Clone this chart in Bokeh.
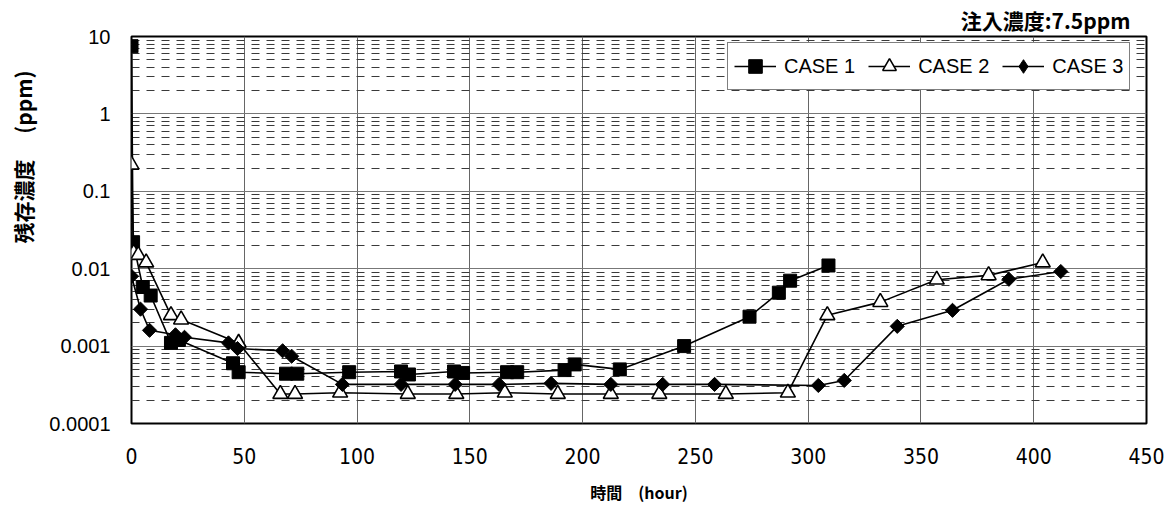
import math
from bokeh.plotting import figure
from bokeh.models import FixedTicker, Legend, LegendItem, Title
from bokeh.embed import file_html
from bokeh.resources import INLINE

# ---- data ----
case1_hours = [0, 0.7, 5, 8.5, 17.5, 21, 45, 47.5, 68.5, 73.5, 96.5, 119.5, 123,
               143, 147, 166.5, 171, 192, 196.5, 216.5, 245, 274, 287, 292, 309]
case1_ppm = [7.5, 0.022, 0.0058, 0.0045, 0.0011, 0.0012, 0.0006, 0.00046, 0.00044,
             0.00044, 0.00046, 0.00047, 0.00043, 0.00047, 0.00045, 0.00046, 0.00046,
             0.00049, 0.00058, 0.0005, 0.001, 0.0024, 0.0049, 0.007, 0.011]

case2_hours = [0, 1, 3, 6.5, 17.5, 22, 47.5, 66, 72.5, 92.5, 122.5, 144, 165.5,
               189, 212.5, 234, 263.5, 291, 308.5, 332, 357, 380, 404]
case2_ppm = [0.22, 0.016, 0.015, 0.012, 0.0025, 0.0022, 0.0011, 0.00024, 0.00024,
             0.00025, 0.00024, 0.00024, 0.00025, 0.00024, 0.00024, 0.00024, 0.00024,
             0.00025, 0.0025, 0.0037, 0.0072, 0.0082, 0.012]

case3_hours = [0, 4, 8, 19.5, 23.5, 43, 47, 67, 71, 93.5, 119.5, 143.5, 163, 186,
               212.5, 235.5, 258.5, 304.5, 316, 339.5, 364, 389, 412]
case3_ppm = [0.008, 0.003, 0.0016, 0.0014, 0.0013, 0.0011, 0.00093, 0.00087, 0.00074,
             0.00032, 0.00032, 0.00032, 0.00032, 0.00033, 0.00032, 0.00032, 0.00032,
             0.00031, 0.00036, 0.0018, 0.0029, 0.0073, 0.0092]

x_ticks = [0, 50, 100, 150, 200, 250, 300, 350, 400, 450]
y_ticks = [0.0001, 0.001, 0.01, 0.1, 1, 10]
y_tick_labels = ["0.0001", "0.001", "0.01", "0.1", "1", "10"]

series_names = ["CASE 1", "CASE 2", "CASE 3"]
title_text = "注入濃度:7.5ppm"
y_label_text = "残存濃度　 (ppm)"
x_label_text = "時間　(hour)"

CJK = "Noto Sans CJK JP"
LAT = "Liberation Sans"

p = figure(width=1164, height=507, x_range=(0, 450), y_range=(1e-4, 10),
           y_axis_type="log", output_backend="svg", toolbar_location=None,
           min_border_left=129, min_border_right=18, min_border_top=36,
           min_border_bottom=84, background_fill_color="white",
           border_fill_color="white")

p.outline_line_color = "black"
p.outline_line_width = 2

# grids
p.xgrid.ticker = FixedTicker(ticks=x_ticks)
p.xgrid.grid_line_color = "#666666"
p.xgrid.grid_line_width = 1
minor_pos = [k * 10.0 ** e for e in range(-4, 1) for k in range(2, 10)]
p.ygrid.ticker = FixedTicker(ticks=y_ticks, minor_ticks=minor_pos)
p.ygrid.grid_line_color = "#777777"
p.ygrid.grid_line_width = 1
p.ygrid.minor_grid_line_color = "#3a3a3a"
p.ygrid.minor_grid_line_dash = "8 7"
p.ygrid.minor_grid_line_width = 1

# axes
p.xaxis.ticker = FixedTicker(ticks=x_ticks)
p.yaxis.ticker = FixedTicker(ticks=y_ticks)
p.yaxis.major_label_overrides = {t: s for t, s in zip(y_ticks, y_tick_labels)}
for ax in (p.xaxis[0], p.yaxis[0]):
    ax.axis_line_color = None
    ax.major_tick_line_color = None
    ax.minor_tick_line_color = None
    ax.major_tick_out = 0
    ax.major_tick_in = 0
    ax.major_label_text_color = "black"
p.yaxis.major_label_text_font = LAT
p.yaxis.major_label_text_font_size = "20px"
p.yaxis.major_label_standoff = 21
p.xaxis.major_label_text_font = "DejaVu Sans Condensed"
p.xaxis.major_label_text_font_size = "21px"
p.xaxis.major_label_standoff = 24
p.xaxis.axis_label = x_label_text
p.xaxis.axis_label_text_font = CJK
p.xaxis.axis_label_text_font_size = "16px"
p.xaxis.axis_label_text_font_style = "bold"
p.xaxis.axis_label_standoff = 13
p.xaxis.axis_label_text_color = "black"

# series
l1 = p.line(case1_hours, case1_ppm, line_color="black", line_width=1.6)
s1 = p.scatter(case1_hours, case1_ppm, marker="square", size=13,
               fill_color="black", line_color="black")
l2 = p.line(case2_hours, case2_ppm, line_color="black", line_width=1.6)
s2 = p.scatter(case2_hours, case2_ppm, marker="triangle", size=15,
               fill_color="white", line_color="black", line_width=1.6)
l3 = p.line(case3_hours, case3_ppm, line_color="black", line_width=1.6)
s3 = p.scatter(case3_hours, case3_ppm, marker="square", size=10, angle=math.pi / 4,
               fill_color="black", line_color="black")
# legend-only glyph for the diamond (hidden on the plot)
s3_key = p.scatter(case3_hours, case3_ppm, marker="diamond", size=14,
                   fill_color="black", line_color="black", visible=False)

legend = Legend(items=[LegendItem(label=series_names[0], renderers=[l1, s1]),
                       LegendItem(label=series_names[1], renderers=[l2, s2]),
                       LegendItem(label=series_names[2], renderers=[l3, s3_key])],
                location=(596, 333), orientation="horizontal")
legend.border_line_color = "black"
legend.border_line_width = 1
legend.background_fill_color = "white"
legend.background_fill_alpha = 1
legend.label_text_font = LAT
legend.label_text_font_size = "20px"
legend.label_text_color = "black"
legend.glyph_width = 42
legend.glyph_height = 34
legend.label_standoff = 8
legend.spacing = 13
legend.padding = 6
legend.margin = 0
p.add_layout(legend)

p.add_layout(Title(text=title_text, align="right", offset=16, standoff=4,
                   text_font=CJK, text_font_size="21px", text_font_style="bold",
                   text_color="black"), "above")
p.add_layout(Title(text=y_label_text, align="right", offset=34, standoff=14,
                   vertical_align="top",
                   text_font=CJK, text_font_size="21px", text_font_style="bold",
                   text_color="black"), "left")

open("out.html", "w").write(file_html(p, INLINE))
